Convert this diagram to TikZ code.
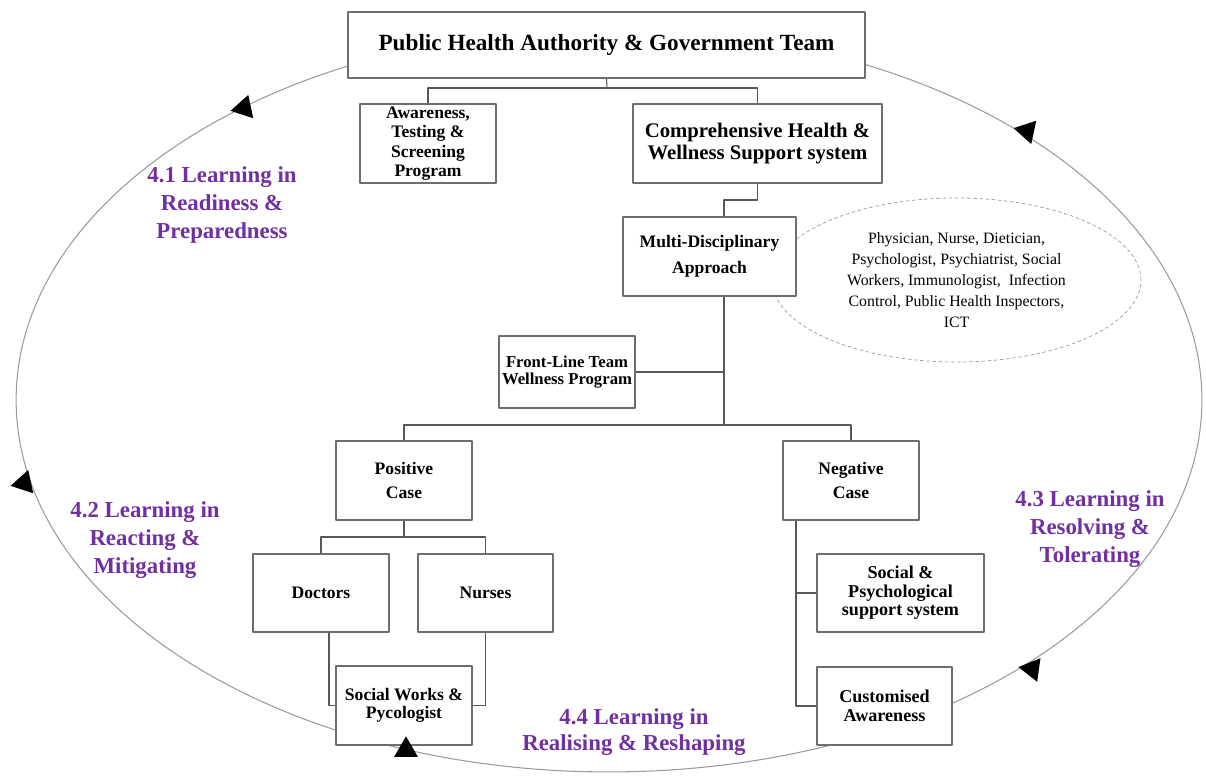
\documentclass[tikz,border=0pt]{standalone}
\usepackage{fontspec}
\setmainfont{Liberation Serif}
\usetikzlibrary{shapes.geometric}
\definecolor{phasepurple}{HTML}{7030A0}
\definecolor{boxgray}{HTML}{6E6E6E}
\definecolor{ringgray}{HTML}{9A9A9A}
\begin{document}
\begin{tikzpicture}[x=0.02cm, y=-0.02cm, line join=round,
	box/.style={draw=boxgray, fill=white, line width=0.7pt, align=center, inner sep=1pt, minimum width=2.72cm, minimum height=1.58cm, font=\bfseries\fontsize{10}{14}\selectfont},
	phase/.style={text=phasepurple, align=center, font=\bfseries\fontsize{13}{16}\selectfont},
	link/.style={draw=boxgray!80!black, line width=0.6pt},
	cyclemark/.style={fill=black, regular polygon, regular polygon sides=3, minimum size=0.55cm, inner sep=0pt}]
				\useasboundingbox (0,0) rectangle (1206,776);
				\draw[ringgray, line width=0.6pt] (609,400) ellipse [x radius=11.86cm, y radius=7.44cm];
				\coordinate (j1) at (607,88);
				\coordinate (j2) at (724,200);
				\coordinate (j3) at (724,425);
				\coordinate (j4) at (404,537);
				\coordinate (dk) at (329,702);
				\coordinate (nk) at (796,705);
				\node[draw=ringgray, dashed, dash pattern=on 2pt off 1.5pt, ellipse, minimum width=7.38cm, minimum height=3.28cm, inner sep=0pt, align=center, font=\fontsize{9}{12}\selectfont] (team) at (956.5,280) {Physician, Nurse, Dietician,\\ Psychologist, Psychiatrist, Social\\ Workers, Immunologist,\ \ Infection\\ Control, Public Health Inspectors,\\ ICT};
				\node[box, minimum width=10.34cm, minimum height=1.32cm, font=\bfseries\fontsize{13.2}{15}\selectfont] (pha) at (606.5,45) {Public Health Authority \& Government Team};
				\node[box, font=\bfseries\fontsize{10}{11}\selectfont] (atsp) at (428,143.5) {Awareness,\\ Testing \&\\ Screening\\ Program};
				\node[box, minimum width=4.98cm, font=\bfseries\fontsize{11.8}{12.5}\selectfont] (chws) at (757.5,143.5) {Comprehensive Health \&\\ Wellness Support system};
				\node[box, minimum width=3.46cm, font=\bfseries\fontsize{10}{14.5}\selectfont] (mda) at (709.5,256.5) {Multi-Disciplinary\\ Approach};
				\node[box, minimum height=1.44cm, font=\bfseries\fontsize{9.5}{9.5}\selectfont] (fltw) at (567,372) {Front-Line Team\\ Wellness Program};
				\node[box] (pos) at (404,480.5) {Positive\\ Case};
				\node[box] (neg) at (851,480.5) {Negative\\ Case};
				\node[box, minimum height=1.56cm] (doc) at (321,593) {Doctors};
				\node[box, minimum width=2.7cm, minimum height=1.56cm] (nur) at (485.5,593) {Nurses};
				\node[box, font=\bfseries\fontsize{10}{10.5}\selectfont] (swp) at (404,705.5) {Social Works \&\\ Pycologist};
				\node[box, minimum width=3.34cm, minimum height=1.56cm, font=\bfseries\fontsize{10.3}{10.5}\selectfont] (sps) at (900.5,593) {Social \&\\ Psychological\\ support system};
				\node[box, minimum width=2.7cm, minimum height=1.56cm, font=\bfseries\fontsize{10.3}{10.5}\selectfont] (cust) at (884.5,706) {Customised\\ Awareness};
				\draw[link] (pha.south)--(j1);
				\draw[link] (atsp.north)|-(j1)-|(chws.north);
				\draw[link] (chws.south)|-(j2)--(j2 |- mda.north);
				\draw[link] (j2 |- mda.south)--(j3);
				\draw[link] (fltw.east)--(fltw.east -| j3);
				\draw[link] (pos.north)|-(j3)-|(neg.north);
				\draw[link] (pos.south)--(j4);
				\draw[link] (doc.north)|-(j4)-|(nur.north);
				\draw[link] (doc.south -| dk)|-(swp.west);
				\draw[link] (nur.south)|-(swp.east);
				\draw[link] (neg.south -| nk)|-(sps.west);
				\draw[link] (neg.south -| nk)|-(cust.west);
				\path
				(222,205) node[phase] (p41) {4.1 Learning in\\ Readiness \&\\ Preparedness}
				(145,540) node[phase] (p42) {4.2 Learning in\\ Reacting \&\\ Mitigating}
				(1090,529) node[phase] (p43) {4.3 Learning in\\ Resolving \&\\ Tolerating}
				(634,732) node[phase, font=\bfseries\fontsize{13}{14.5}\selectfont] (p44) {4.4 Learning in\\ Realising \& Reshaping}
				;
				\node[cyclemark, rotate=-18] (t1) at (244,108) {};
				\node[cyclemark, rotate=-42] (t2) at (1027,131) {};
				\node[cyclemark, rotate=-18] (t3) at (24,483) {};
				\node[cyclemark] (t4) at (406,750) {};
				\node[cyclemark, rotate=-38] (t5) at (1032,669) {};
			\end{tikzpicture}
\end{document}
